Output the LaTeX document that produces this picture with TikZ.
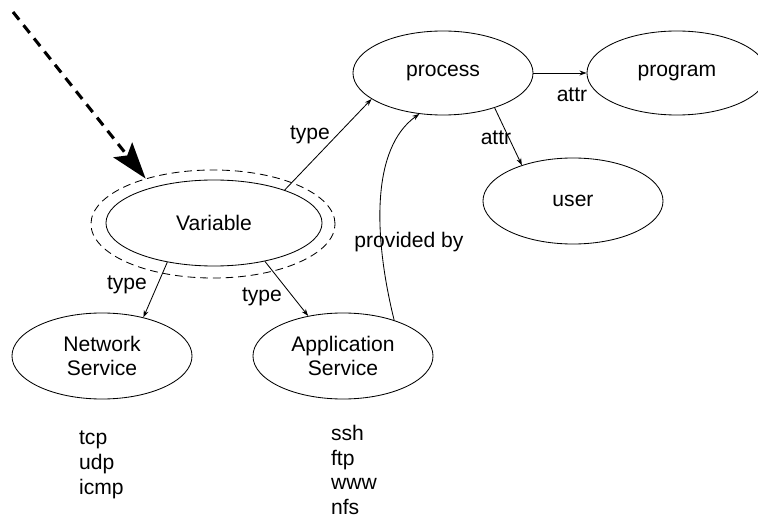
\documentclass[tikz,border=0pt]{standalone}
\usepackage{fontspec}
\setmainfont{Liberation Sans}
\usetikzlibrary{shapes.geometric,arrows.meta}

\begin{document}
\begin{tikzpicture}[x=0.025cm, y=-0.025cm, line width=0.6pt,
        every node/.style={font=\fontsize{15}{17.7}\selectfont},
        obj/.style={draw, ellipse, inner sep=0pt, minimum width=4.5cm, minimum height=2.15cm},
        rel/.style={-{Stealth[length=5pt, width=3.5pt]}}]
    \useasboundingbox (0,0) rectangle (758,518);

    \node[obj, minimum height=2.1cm] (process) at (443,73) {process};
    \node[obj, minimum height=2.1cm] (program) at (677,73) {program};
    \node[obj] (user) at (573,201) {user};
    \node[obj, minimum width=5.4cm] (variable) at (214,223) {Variable};
    \node[draw, ellipse, dash pattern=on 5.5pt off 3.5pt, minimum width=6.1cm, minimum height=2.7cm] (varouter) at (213,224) {};
    \node[obj, align=center, font=\fontsize{15}{16.5}\selectfont] (netsvc) at (102,356) {Network\\Service};
    \node[obj, align=center, font=\fontsize{15}{16.5}\selectfont] (appsvc) at (343,356) {Application\\Service};

    \node[anchor=west, align=left] (netlist) at (74,465) {tcp\\udp\\icmp};
    \node[anchor=west, align=left] (applist) at (326,470) {ssh\\ftp\\www\\nfs};

    \coordinate (start) at (13,12);
    \draw[line width=2.2pt, dash pattern=on 7pt off 5pt, -{Stealth[length=26pt, width=17pt, inset=5pt]}] (start) -- (varouter.146);

    \draw[rel] (variable.25) -- (process.200);
    \draw[rel] (variable.220) -- (netsvc.43);
    \draw[rel] (variable.-37) -- (appsvc.131);
    \draw[rel] (process.east) -- (program.west);
    \draw[rel] (process.-34) -- (user.145);
    \draw[rel] (appsvc.35) .. controls +(-21,-85) and +(-48,34) .. (process.240);

    \node (ltype1) at (310,135) {type};
    \node (ltype2) at (127,285) {type};
    \node (ltype3) at (262,297) {type};
    \node (lattr1) at (572,95) {attr};
    \node (lattr2) at (496,138) {attr};
    \node (lprov) at (409,242) {provided by};
\end{tikzpicture}
\end{document}
